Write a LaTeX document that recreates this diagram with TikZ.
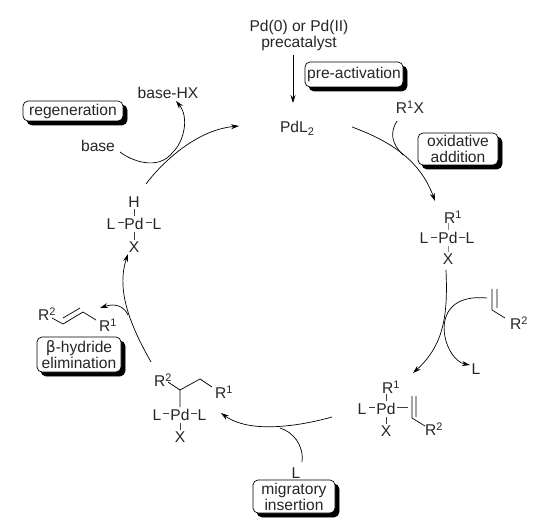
\documentclass[tikz,border=0pt]{standalone}
\usepackage{fontspec}
\setmainfont{Liberation Sans}
\usetikzlibrary{arrows.meta}
\newfontfamily\grk{DejaVu Sans}
\tikzset{
  x=1pt,y=-1pt,
  txt/.style={inner sep=0pt,font=\fontsize{15.6}{16}\selectfont,align=center,text=black!85},
  frame/.style={draw=black,line width=0.7pt,rounded corners=5pt,fill=white},
  tagshadow/.style={fill=black,draw=black,line width=0.7pt,rounded corners=5pt},
  flow/.style={line width=0.7pt,-{Stealth[length=8pt,width=5pt]}},
  plain/.style={line width=0.7pt},
  bond/.style={line width=0.6pt,black!75},
}
\newcommand{\tagbox}[6]{%
  \draw[tagshadow] (#1+4,#2+4) rectangle (#3+4,#4+4);
  \draw[frame] (#1,#2) rectangle (#3,#4);
  \node[txt] (#5) at ({(#1+#3)/2},{(#2+#4)/2}) {#6};
}
\newcommand{\low}[1]{\raisebox{-3pt}{\fontsize{11}{11}\selectfont #1}}
\begin{document}
\begin{tikzpicture}
\useasboundingbox (0,0) rectangle (538,529);
\fill[white] (0,0) rectangle (538,529);
% texts
\node[txt] (pre) at (299,35) {Pd(0) or Pd(II)\\precatalyst};
\node[txt] (pdl) at (297,128) {PdL\low{2}};
\node[txt] (rx) at (410,107) {R\textsuperscript{1}X};
\node[txt] (base) at (98,146) {base};
\node[txt] (bhx) at (168,93) {base-HX};
% boxes
\tagbox{305}{62}{403}{87}{ba}{pre-activation}
\tagbox{418}{133}{498}{165}{bb}{oxidative\\addition}
\tagbox{23}{101}{123}{121}{bc}{regeneration}
\tagbox{37}{337}{121}{372}{bd}{{\grk β}-hydride\\elimination}
\tagbox{253}{480}{335}{513}{be}{migratory\\insertion}
% complex A
\node[txt] (a1) at (453,217) {R\textsuperscript{1}};
\node[txt] (a2) at (448,238) {Pd};
\node[txt] (a3) at (424,238) {L};
\node[txt] (a4) at (470,238) {L};
\node[txt] (a5) at (448,259) {X};
\draw[bond,black!45] (448,223)--(448,230) (448,246)--(448,252);
\draw[bond] (431,237)--(437,237) (459,237)--(465,237);
% complex B
\node[txt] (b1) at (391,387) {R\textsuperscript{1}};
\node[txt] (b2) at (386,409) {Pd};
\node[txt] (b3) at (362,409) {L};
\node[txt] (b5) at (386,431) {X};
\node[txt] (b6) at (434,429) {R\textsuperscript{2}};
\draw[bond] (386,394)--(386,401) (386,417)--(386,424) (369,407)--(375,407) (397,407)--(408,407);
\draw[plain] (412,396)--(412,418)--(425,426) (416,396)--(416,417);
% alkene free
\node[txt] (c1) at (519,323) {R\textsuperscript{2}};
\node[txt] (c2) at (476,369) {L};
\draw[plain] (492,289)--(492,310)--(505,318) (497,289)--(497,308);
% complex D
\node[txt] (d1) at (163,380) {R\textsuperscript{2}};
\node[txt] (d2) at (224,392) {R\textsuperscript{1}};
\node[txt] (d3) at (180,415) {Pd};
\node[txt] (d4) at (157,415) {L};
\node[txt] (d5) at (202,415) {L};
\node[txt] (d6) at (180,437) {X};
\node[txt] (d7) at (296,473) {L};
\draw[plain] (180,407)--(180,390)--(168,382) (180,390)--(200,379)--(212,387);
\draw[bond] (180,423)--(180,430) (163,413)--(169,413) (191,413)--(197,413);
% alkene left
\node[txt] (e1) at (47,314) {R\textsuperscript{2}};
\node[txt] (e2) at (108,325) {R\textsuperscript{1}};
\draw[plain] (52,318)--(63,324)--(83,312)--(96,320) (63,318)--(80,308);
% complex E
\node[txt] (f1) at (134,202) {H};
\node[txt] (f2) at (134,224) {Pd};
\node[txt] (f3) at (111,224) {L};
\node[txt] (f4) at (157,224) {L};
\node[txt] (f5) at (134,247) {X};
\draw[bond] (134,209)--(134,216) (134,232)--(134,240) (118,222)--(124,222) (146,222)--(152,222);
% anchors
\coordinate (s1) at (293,55); \coordinate (t1) at (293,103);
\coordinate (s2) at (352,127); \coordinate (m2) at (403,155); \coordinate (t2) at (435,201);
\coordinate (s2b) at (397,121);
\coordinate (s3) at (446,270); \coordinate (t3) at (413,373);
\coordinate (s3b) at (487,298); \coordinate (t3b) at (470,365);
\coordinate (s4) at (332,417); \coordinate (m4) at (280,428); \coordinate (t4) at (221,413);
\coordinate (s4b) at (302,462);
\coordinate (s5) at (151,362); \coordinate (m5) at (128,315); \coordinate (t5) at (128,254);
\coordinate (t5b) at (100,308);
\coordinate (s6) at (146,184); \coordinate (m6) at (173,152); \coordinate (t6) at (239,126);
\coordinate (s6b) at (120,152); \coordinate (t6b) at (176,101);
% connectors
\draw[flow] (s1)--(t1);
\draw[flow] (s2) .. controls (390,141) and (420,160) .. (t2);
\draw[plain] (s2b) .. controls (390,132) and (391,143) .. (m2);
\draw[flow] (s3) .. controls (448,315) and (444,345) .. (t3);
\draw[flow] (s3b) .. controls (424,292) and (443,360) .. (t3b);
\draw[flow] (s4) .. controls (300,426) and (250,434) .. (t4);
\draw[plain] (s4b) .. controls (304,445) and (293,432) .. (m4);
\draw[flow] (s5) .. controls (130,325) and (116,290) .. (t5);
\draw[flow] (m5) .. controls (124,306) and (115,303) .. (t5b);
\draw[flow] (s6) .. controls (160,165) and (195,130) .. (t6);
\draw[flow] (s6b) .. controls (130,160) and (158,172) .. (m6) .. controls (183,143) and (190,118) .. (t6b);
\end{tikzpicture}
\end{document}
